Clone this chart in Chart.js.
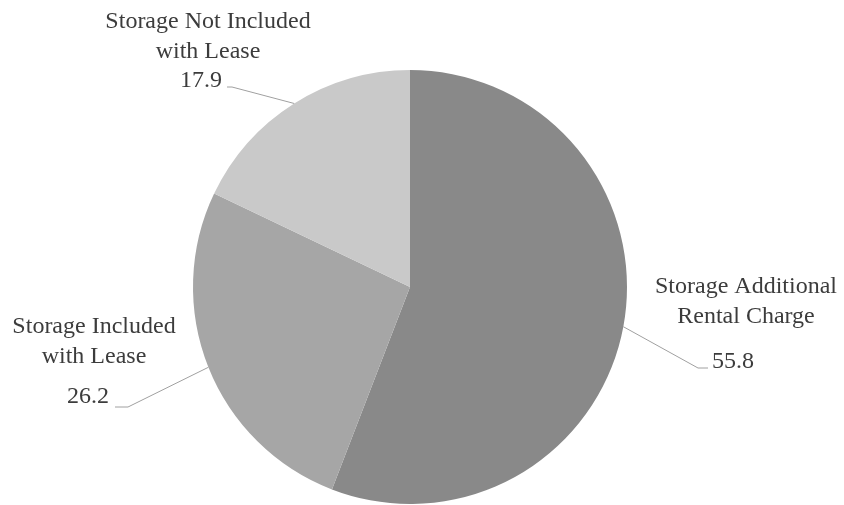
<!DOCTYPE html>
<html>
<head>
<meta charset="utf-8">
<script src="https://cdn.jsdelivr.net/npm/chart.js@4"></script>
<style>
  body { margin: 0; background: #fff; }
  canvas { display: block; }
</style>
</head>
<body>
<canvas id="grafico" width="844" height="505"></canvas>
<script>
const categorias = ["Storage Additional Rental Charge", "Storage Included with Lease", "Storage Not Included with Lease"];
const valores = [55.8, 26.2, 17.9];
const lineasEtiqueta = [
  ["Storage Additional", "Rental Charge"],
  ["Storage Included", "with Lease"],
  ["Storage Not Included", "with Lease"]
];
const colores = ["#898989", "#a6a6a6", "#c9c9c9"];

// donde va cada etiqueta (texto, valor y codo de la linea guia)
const posEtiquetas = [
  { x: 746, y: 293, vx: 733, vy: 368, codo: [698, 368], fin: [708, 368] },
  { x: 94, y: 333, vx: 88, vy: 403, codo: [128, 407], fin: [115, 407] },
  { x: 208, y: 28, vx: 201, vy: 87, codo: [232, 87], fin: [227, 87] }
];

const etiquetasPlugin = {
  id: "etiquetas",
  afterDraw(chart) {
    const ctx = chart.ctx;
    const arcos = chart.getDatasetMeta(0).data;
    ctx.save();
    arcos.forEach((arco, i) => {
      const p = posEtiquetas[i];
      const medio = (arco.startAngle + arco.endAngle) / 2;
      const bx = arco.x + Math.cos(medio) * arco.outerRadius;
      const by = arco.y + Math.sin(medio) * arco.outerRadius;

      ctx.strokeStyle = "#a0a0a0";
      ctx.lineWidth = 1;
      ctx.beginPath();
      ctx.moveTo(bx, by);
      ctx.lineTo(p.codo[0], p.codo[1]);
      ctx.lineTo(p.fin[0], p.fin[1]);
      ctx.stroke();

      ctx.fillStyle = "#3c3c3c";
      ctx.font = "24px 'Liberation Serif', 'Times New Roman', serif";
      ctx.textAlign = "center";
      ctx.textBaseline = "alphabetic";
      lineasEtiqueta[i].forEach((t, j) => {
        ctx.fillText(t, p.x, p.y + j * 29.5);
      });
      ctx.fillText(valores[i].toFixed(1), p.vx, p.vy);
    });
    ctx.restore();
  }
};

new Chart(document.getElementById("grafico"), {
  type: "pie",
  data: {
    labels: categorias,
    datasets: [{
      data: valores,
      backgroundColor: colores,
      borderWidth: 0
    }]
  },
  options: {
    responsive: false,
    animation: false,
    layout: { padding: { top: 70, bottom: 1, left: 0, right: 24 } },
    plugins: {
      legend: { display: false },
      tooltip: { enabled: false }
    }
  },
  plugins: [etiquetasPlugin]
});
</script>
</body>
</html>
